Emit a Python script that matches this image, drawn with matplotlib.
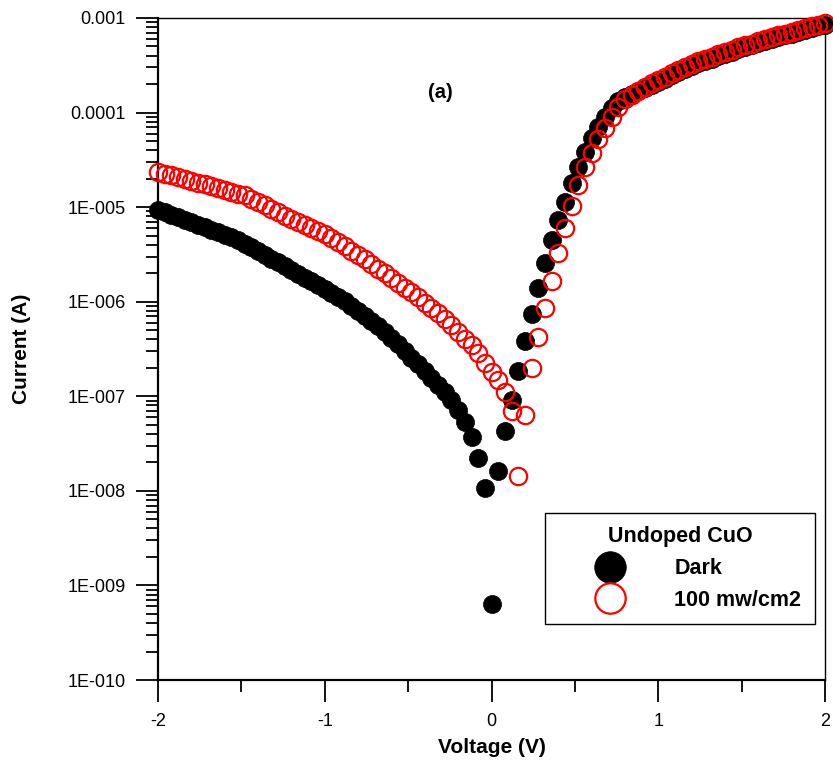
import matplotlib
matplotlib.use("Agg")
import matplotlib.pyplot as plt
from matplotlib.ticker import FixedLocator, FixedFormatter, MultipleLocator, LogLocator, NullFormatter
import numpy as np

plt.rcParams['font.family'] = ['Liberation Sans', 'DejaVu Sans']
plt.rcParams['axes.unicode_minus'] = False

# voltage sweep, -2 V .. 2 V in 0.04 V steps
voltage = np.linspace(-2, 2, 101)

dark = [9.33e-6, 8.79e-6, 8.26e-6, 7.78e-6, 7.31e-6, 6.89e-6, 6.49e-6, 6.10e-6, 5.74e-6, 5.40e-6,
        5.08e-6, 4.79e-6, 4.50e-6, 4.12e-6, 3.76e-6, 3.43e-6, 3.13e-6, 2.85e-6, 2.60e-6, 2.37e-6,
        2.16e-6, 1.97e-6, 1.80e-6, 1.64e-6, 1.50e-6, 1.36e-6, 1.24e-6, 1.12e-6, 1.01e-6, 9.02e-7,
        8.04e-7, 7.13e-7, 6.28e-7, 5.50e-7, 4.78e-7, 4.12e-7, 3.53e-7, 3.01e-7, 2.54e-7, 2.17e-7,
        1.85e-7, 1.57e-7, 1.32e-7, 1.10e-7, 9.12e-8, 7.24e-8, 5.37e-8, 3.72e-8, 2.24e-8, 1.07e-8,
        6.3e-10,
        1.62e-8, 4.27e-8, 9.12e-8, 1.86e-7, 3.80e-7, 7.41e-7, 1.39e-6, 2.59e-6, 4.47e-6, 7.24e-6,
        1.14e-5, 1.79e-5, 2.68e-5, 3.86e-5, 5.37e-5, 7.10e-5, 9.02e-5, 1.11e-4, 1.32e-4, 1.46e-4,
        1.58e-4, 1.68e-4, 1.80e-4, 1.95e-4, 2.11e-4, 2.29e-4, 2.48e-4, 2.69e-4, 2.88e-4, 3.09e-4,
        3.31e-4, 3.51e-4, 3.72e-4, 3.94e-4, 4.17e-4, 4.42e-4, 4.68e-4, 4.90e-4, 5.13e-4, 5.43e-4,
        5.69e-4, 5.96e-4, 6.24e-4, 6.53e-4, 6.84e-4, 7.16e-4, 7.50e-4, 7.76e-4, 8.13e-4, 8.51e-4]

light = [2.34e-5, 2.26e-5, 2.19e-5, 2.09e-5, 2.00e-5, 1.91e-5, 1.82e-5, 1.74e-5, 1.66e-5, 1.58e-5,
         1.51e-5, 1.45e-5, 1.39e-5, 1.33e-5, 1.23e-5, 1.14e-5, 1.05e-5, 9.55e-6, 8.81e-6, 8.13e-6,
         7.50e-6, 6.92e-6, 6.46e-6, 6.03e-6, 5.62e-6, 5.25e-6, 4.73e-6, 4.27e-6, 3.85e-6, 3.47e-6,
         3.13e-6, 2.82e-6, 2.51e-6, 2.24e-6, 2.00e-6, 1.78e-6, 1.58e-6, 1.41e-6, 1.26e-6, 1.11e-6,
         9.77e-7, 8.61e-7, 7.59e-7, 6.61e-7, 5.62e-7, 4.79e-7, 4.07e-7, 3.47e-7, 2.88e-7, 2.24e-7,
         1.82e-7,
         1.48e-7, 1.12e-7, 6.92e-8, 1.45e-8, 6.31e-8, 2.00e-7, 4.27e-7, 8.51e-7, 1.66e-6, 3.26e-6,
         5.98e-6, 1.03e-5, 1.72e-5, 2.64e-5, 3.77e-5, 5.22e-5, 6.92e-5, 9.06e-5, 1.15e-4, 1.38e-4,
         1.55e-4, 1.70e-4, 1.86e-4, 2.04e-4, 2.21e-4, 2.40e-4, 2.60e-4, 2.82e-4, 3.02e-4, 3.24e-4,
         3.47e-4, 3.67e-4, 3.89e-4, 4.12e-4, 4.37e-4, 4.62e-4, 4.90e-4, 5.13e-4, 5.37e-4, 5.69e-4,
         5.96e-4, 6.24e-4, 6.53e-4, 6.84e-4, 7.16e-4, 7.50e-4, 7.85e-4, 8.13e-4, 8.51e-4, 8.91e-4]

y_ticks = [1e-10, 1e-9, 1e-8, 1e-7, 1e-6, 1e-5, 1e-4, 1e-3]
y_labels = ['1E-010', '1E-009', '1E-008', '1E-007', '1E-006', '1E-005', '0.0001', '0.001']
x_ticks = [-2, -1, 0, 1, 2]

fig = plt.figure(figsize=(8.33, 7.62), dpi=100)
ax = fig.add_axes([0.1897, 0.1076, 0.8007, 0.8688])

ax.plot(voltage, dark, 'o', ms=13, color='black', mec='black', mew=0.5,
        linestyle='none', clip_on=False, zorder=3, label='Dark')
ax.plot(voltage, light, 'o', ms=12.5, mfc='none', mec='red', mew=1.6,
        linestyle='none', clip_on=False, zorder=4, label='100 mw/cm2')

ax.set_yscale('log')
ax.set_xlim(-2, 2)
ax.set_ylim(1e-10, 1e-3)

ax.yaxis.set_major_locator(FixedLocator(y_ticks))
ax.yaxis.set_major_formatter(FixedFormatter(y_labels))
ax.yaxis.set_minor_locator(LogLocator(base=10, subs=np.arange(2, 10), numticks=20))
ax.yaxis.set_minor_formatter(NullFormatter())
ax.xaxis.set_major_locator(FixedLocator(x_ticks))
ax.xaxis.set_minor_locator(MultipleLocator(0.5))

ax.tick_params(axis='both', which='major', direction='out', length=15.5, width=1.3,
               labelsize=13, pad=8, top=False, right=False)
ax.tick_params(axis='both', which='minor', direction='out', length=8.4, width=1.3,
               top=False, right=False)

for side in ['left', 'bottom']:
    ax.spines[side].set_linewidth(1.6)
for side in ['top', 'right']:
    ax.spines[side].set_linewidth(1.0)

ax.set_xlabel('Voltage (V)', fontsize=15, fontweight='bold', labelpad=6)
ax.set_ylabel('Current (A)', fontsize=15, fontweight='bold', labelpad=26)

ax.text(0.4228, 0.888, '(a)', transform=ax.transAxes, fontsize=14.5,
        fontweight='bold', ha='center', va='center')

leg = ax.legend(loc='upper left', bbox_to_anchor=(0.58, 0.2523), title='Undoped CuO',
                prop={'size': 15.5, 'weight': 'bold'},
                title_fontproperties={'size': 15.5, 'weight': 'bold'},
                fancybox=False, framealpha=1, edgecolor='black', markerscale=1.75,
                borderpad=0.62, handlelength=4.8, handletextpad=0.6, labelspacing=0.5,
                borderaxespad=0)
leg.get_frame().set_linewidth(1.0)

fig.savefig('out.png', dpi=100)
